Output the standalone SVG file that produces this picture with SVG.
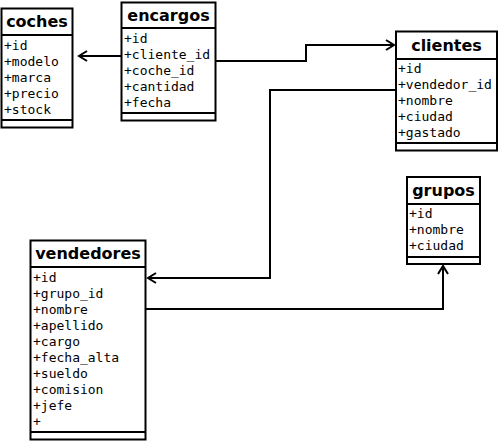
<svg xmlns="http://www.w3.org/2000/svg" width="501" height="443" viewBox="0 0 501 443">
<style>
.box{fill:#fff;stroke:#000;stroke-width:2}
.sep{stroke:#000;stroke-width:2}
.t{font-family:"DejaVu Sans",sans-serif;font-weight:bold;font-size:16px;text-anchor:middle}
.r{font-family:"DejaVu Sans Mono",monospace;font-size:13px}
.c{fill:none;stroke:#000;stroke-width:2}
.a{fill:none;stroke:#000;stroke-width:2}
</style>
<rect width="501" height="443" fill="#fff"/>
<g id="coches">
<rect class="box" x="1.5" y="8.5" width="71" height="119"/>
<line class="sep" x1="1.5" y1="35" x2="72.5" y2="35"/>
<line class="sep" x1="1.5" y1="120" x2="72.5" y2="120"/>
<text class="t" x="37" y="27">coches</text>
<text class="r" x="4" y="50">+id</text>
<text class="r" x="4" y="66">+modelo</text>
<text class="r" x="4" y="82">+marca</text>
<text class="r" x="4" y="98">+precio</text>
<text class="r" x="4" y="114">+stock</text>
</g>
<g id="encargos">
<rect class="box" x="121.5" y="2.5" width="94" height="118"/>
<line class="sep" x1="121.5" y1="28" x2="215.5" y2="28"/>
<line class="sep" x1="121.5" y1="113" x2="215.5" y2="113"/>
<text class="t" x="168.5" y="21">encargos</text>
<text class="r" x="124" y="43">+id</text>
<text class="r" x="124" y="59">+cliente_id</text>
<text class="r" x="124" y="75">+coche_id</text>
<text class="r" x="124" y="91">+cantidad</text>
<text class="r" x="124" y="107">+fecha</text>
</g>
<g id="clientes">
<rect class="box" x="396" y="31.5" width="101" height="119"/>
<line class="sep" x1="396" y1="59" x2="497" y2="59"/>
<line class="sep" x1="396" y1="143" x2="497" y2="143"/>
<text class="t" x="446.5" y="51">clientes</text>
<text class="r" x="398" y="73">+id</text>
<text class="r" x="398" y="89">+vendedor_id</text>
<text class="r" x="398" y="105">+nombre</text>
<text class="r" x="398" y="121">+ciudad</text>
<text class="r" x="398" y="137">+gastado</text>
</g>
<g id="grupos">
<rect class="box" x="407" y="177" width="73" height="87"/>
<line class="sep" x1="407" y1="204" x2="480" y2="204"/>
<line class="sep" x1="407" y1="257" x2="480" y2="257"/>
<text class="t" x="443.5" y="196">grupos</text>
<text class="r" x="409" y="218">+id</text>
<text class="r" x="409" y="234">+nombre</text>
<text class="r" x="409" y="250">+ciudad</text>
</g>
<g id="vendedores">
<rect class="box" x="30.5" y="240.5" width="115" height="199"/>
<line class="sep" x1="30.5" y1="267" x2="145.5" y2="267"/>
<line class="sep" x1="30.5" y1="432" x2="145.5" y2="432"/>
<text class="t" x="88" y="259">vendedores</text>
<text class="r" x="33" y="282">+id</text>
<text class="r" x="33" y="298">+grupo_id</text>
<text class="r" x="33" y="314">+nombre</text>
<text class="r" x="33" y="330">+apellido</text>
<text class="r" x="33" y="346">+cargo</text>
<text class="r" x="33" y="362">+fecha_alta</text>
<text class="r" x="33" y="378">+sueldo</text>
<text class="r" x="33" y="394">+comision</text>
<text class="r" x="33" y="410">+jefe</text>
<text class="r" x="33" y="426">+</text>
</g>
<g id="connectors">
<path class="c" d="M121 56 H79"/>
<path class="a" d="M87 51 L79 56 L87 61"/>
<path class="c" d="M216 61 H306 V45 H394"/>
<path class="a" d="M386 40 L394 45 L386 50"/>
<path class="c" d="M396 90 H270 V278 H148"/>
<path class="a" d="M156 273 L148 278 L156 283"/>
<path class="c" d="M146 309 H443 V266"/>
<path class="a" d="M438 274 L443 266 L448 274"/>
</g>
</svg>
